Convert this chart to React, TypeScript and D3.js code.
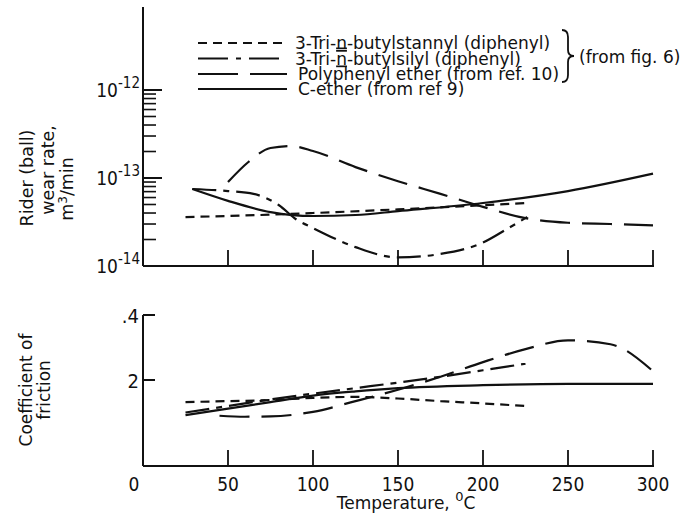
import React from 'react';
import * as d3 from 'd3';

// temperature (deg C) and wear rate (m^3/min), upper panel
const stannylWearT = [25, 50, 100, 150, 200, 225];
const stannylWear = [3.6e-14, 3.7e-14, 4.0e-14, 4.4e-14, 4.9e-14, 5.2e-14];

const silylWearT = [29, 50, 65, 80, 90, 100, 125, 150, 175, 200, 215, 226];
const silylWear = [7.5e-14, 7.1e-14, 6.6e-14, 4.9e-14, 3.4e-14, 2.7e-14, 1.64e-14, 1.25e-14, 1.37e-14, 1.85e-14, 2.7e-14, 3.6e-14];

const polyWearT = [50, 62, 75, 87, 100, 125, 150, 175, 200, 225, 250, 275, 300];
const polyWear = [9.0e-14, 1.52e-13, 2.19e-13, 2.31e-13, 2.03e-13, 1.33e-13, 9.2e-14, 6.6e-14, 4.7e-14, 3.5e-14, 3.1e-14, 3.0e-14, 2.9e-14];

const cEtherWearT = [29, 50, 75, 100, 125, 150, 200, 250, 300];
const cEtherWear = [7.5e-14, 5.5e-14, 4.1e-14, 3.7e-14, 3.8e-14, 4.2e-14, 5.2e-14, 7.1e-14, 1.12e-13];

// coefficient of friction, lower panel
const stannylFricT = [25, 50, 75, 100, 125, 150, 175, 200, 225];
const stannylFric = [0.132, 0.135, 0.138, 0.145, 0.148, 0.143, 0.135, 0.128, 0.12];

const silylFricT = [25, 50, 75, 100, 125, 150, 175, 200, 225];
const silylFric = [0.1, 0.12, 0.14, 0.158, 0.175, 0.192, 0.21, 0.23, 0.25];

const polyFricT = [45, 60, 75, 100, 125, 150, 175, 200, 225, 250, 275, 300];
const polyFric = [0.09, 0.087, 0.088, 0.102, 0.135, 0.17, 0.21, 0.255, 0.295, 0.322, 0.31, 0.227];

const cEtherFricT = [25, 50, 75, 100, 125, 150, 200, 250, 300];
const cEtherFric = [0.092, 0.112, 0.132, 0.152, 0.165, 0.175, 0.184, 0.188, 0.188];

const xTicks = [0, 50, 100, 150, 200, 250, 300];
const wearMajor = [1e-12, 1e-13, 1e-14];
const wearMajorLabels = ['-12', '-13', '-14'];
const fricTicks = [0.4, 0.2];
const fricTickLabels = ['.4', '2'];

const LABEL_FONT = "'DejaVu Sans', sans-serif";
const NUM_FONT = "'DejaVu Sans Condensed', 'DejaVu Sans', sans-serif";
const INK = '#111';

const dashes = {
  stannyl: '9,6',
  silyl: '24,7,6,7',
  poly: '30,12',
  cEther: null,
};

const App = () => {
  const width = 687;
  const height = 516;
  const axisX = 143;

  const x = d3.scaleLinear().domain([0, 300]).range([axisX, 653]);

  // upper panel (log)
  const topBase = 266;
  const yWear = d3.scaleLog().domain([1e-14, 1e-12]).range([topBase, 90]);

  // lower panel (linear)
  const botBase = 466;
  const yFric = d3.scaleLinear().domain([0, 0.4]).range([445, 315]);

  const lineFor = (ys, xs, vs) =>
    d3.line()
      .x((d) => x(d[0]))
      .y((d) => ys(d[1]))
      .curve(d3.curveMonotoneX)(xs.map((t, i) => [t, vs[i]]));

  const topSeries = [
    { t: stannylWearT, v: stannylWear, dash: dashes.stannyl },
    { t: silylWearT, v: silylWear, dash: dashes.silyl },
    { t: polyWearT, v: polyWear, dash: dashes.poly },
    { t: cEtherWearT, v: cEtherWear, dash: dashes.cEther },
  ];
  const botSeries = [
    { t: stannylFricT, v: stannylFric, dash: dashes.stannyl },
    { t: silylFricT, v: silylFric, dash: dashes.silyl },
    { t: polyFricT, v: polyFric, dash: dashes.poly },
    { t: cEtherFricT, v: cEtherFric, dash: dashes.cEther },
  ];

  // minor log ticks between 1e-14 and 1e-12
  const minor = [];
  [1e-14, 1e-13].forEach((dec) => {
    for (let k = 2; k <= 9; k++) minor.push(dec * k);
  });

  const legendRows = [
    { y: 43, dash: '9,6', tx: 295 },
    { y: 58.5, dash: '30,8,5,8', tx: 295 },
    { y: 74, dash: '40,12', tx: 298 },
    { y: 89, dash: null, tx: 298 },
  ];

  return (
    <svg
      width={width}
      height={height}
      style={{ position: 'absolute', left: 0, top: 0, background: '#fff' }}
      fontFamily={LABEL_FONT}
      fill={INK}
    >
      {/* ---------- upper panel ---------- */}
      <line x1={axisX} x2={axisX} y1={7} y2={topBase} stroke={INK} strokeWidth={2} />
      <line x1={axisX} x2={x(300) + 1} y1={topBase} y2={topBase} stroke={INK} strokeWidth={2} />
      {wearMajor.map((v, i) => (
        <g key={'wm' + i}>
          <line x1={axisX} x2={axisX + 19} y1={yWear(v)} y2={yWear(v)} stroke={INK} strokeWidth={2} />
          <text x={140} y={yWear(v) + 7} textAnchor="end" fontSize={19} fontFamily={NUM_FONT}>
            10
            <tspan dy={-9} fontSize={15}>{wearMajorLabels[i]}</tspan>
          </text>
        </g>
      ))}
      {minor.map((v, i) => (
        <line key={'mn' + i} x1={axisX} x2={axisX + 13} y1={yWear(v)} y2={yWear(v)} stroke={INK} strokeWidth={1.6} />
      ))}
      {xTicks.slice(1).map((t) => (
        <line key={'tt' + t} x1={x(t)} x2={x(t)} y1={topBase} y2={topBase - 16} stroke={INK} strokeWidth={1.8} />
      ))}
      {topSeries.map((s, i) => (
        <path
          key={'ts' + i}
          d={lineFor(yWear, s.t, s.v)}
          fill="none"
          stroke={INK}
          strokeWidth={2.2}
          strokeDasharray={s.dash || undefined}
        />
      ))}

      {/* upper y label */}
      <g fontSize={17.5} textAnchor="middle">
        <text transform="translate(33,178) rotate(-90)">Rider (ball)</text>
        <text transform="translate(54,170) rotate(-90)">wear rate,</text>
        <text transform="translate(73,189) rotate(-90)">
          m<tspan dy={-6} fontSize={12}>3</tspan>
          <tspan dy={6}>/min</tspan>
        </text>
      </g>

      {/* legend */}
      {legendRows.map((r, i) => (
        <line
          key={'lg' + i}
          x1={198}
          x2={287}
          y1={r.y}
          y2={r.y}
          stroke={INK}
          strokeWidth={2.2}
          strokeDasharray={r.dash || undefined}
        />
      ))}
      <g fontSize={17}>
        <text x={legendRows[0].tx} y={legendRows[0].y + 6}>
          3-Tri-<tspan textDecoration="underline">n</tspan>-butylstannyl (diphenyl)
        </text>
        <text x={legendRows[1].tx} y={legendRows[1].y + 6}>
          3-Tri-<tspan textDecoration="underline overline">n</tspan>-butylsilyl (diphenyl)
        </text>
        <text x={legendRows[2].tx} y={legendRows[2].y + 6}>Polyphenyl ether (from ref. 10)</text>
        <text x={legendRows[3].tx} y={legendRows[3].y + 6}>C-ether (from ref  9)</text>
      </g>
      <text x={579} y={63} fontSize={17}>(from fig. 6)</text>
      <path
        d="M562,30 Q568,30 568,37 L568,50 Q568,56 574,56 Q568,56 568,62 L568,75 Q568,82 562,82"
        fill="none"
        stroke={INK}
        strokeWidth={1.8}
      />

      {/* ---------- lower panel ---------- */}
      <line x1={axisX} x2={axisX} y1={315} y2={botBase} stroke={INK} strokeWidth={2} />
      <line x1={axisX} x2={x(300) + 1} y1={botBase} y2={botBase} stroke={INK} strokeWidth={2} />
      {fricTicks.map((v, i) => (
        <g key={'ft' + i}>
          <line x1={axisX} x2={axisX + 12} y1={yFric(v)} y2={yFric(v)} stroke={INK} strokeWidth={2} />
          <text x={139} y={yFric(v) + 8} textAnchor="end" fontSize={20} fontFamily={NUM_FONT}>
            {fricTickLabels[i]}
          </text>
        </g>
      ))}
      {xTicks.slice(1).map((t) => (
        <line key={'bt' + t} x1={x(t)} x2={x(t)} y1={botBase} y2={botBase - 16} stroke={INK} strokeWidth={1.8} />
      ))}
      {xTicks.map((t) => (
        <text key={'bl' + t} x={x(t) - (t === 0 ? 9 : 0)} y={491} textAnchor="middle" fontSize={19} fontFamily={NUM_FONT}>
          {t}
        </text>
      ))}
      {botSeries.map((s, i) => (
        <path
          key={'bs' + i}
          d={lineFor(yFric, s.t, s.v)}
          fill="none"
          stroke={INK}
          strokeWidth={2.2}
          strokeDasharray={s.dash || undefined}
        />
      ))}

      <text x={406} y={509} textAnchor="middle" fontSize={17}>
        Temperature, <tspan dy={-8} fontSize={13}>0</tspan>
        <tspan dy={8}>C</tspan>
      </text>

      <g fontSize={17} textAnchor="middle">
        <text transform="translate(32,390) rotate(-90)">Coefficient of</text>
        <text transform="translate(50,390) rotate(-90)">friction</text>
      </g>
    </svg>
  );
};

export default App;
